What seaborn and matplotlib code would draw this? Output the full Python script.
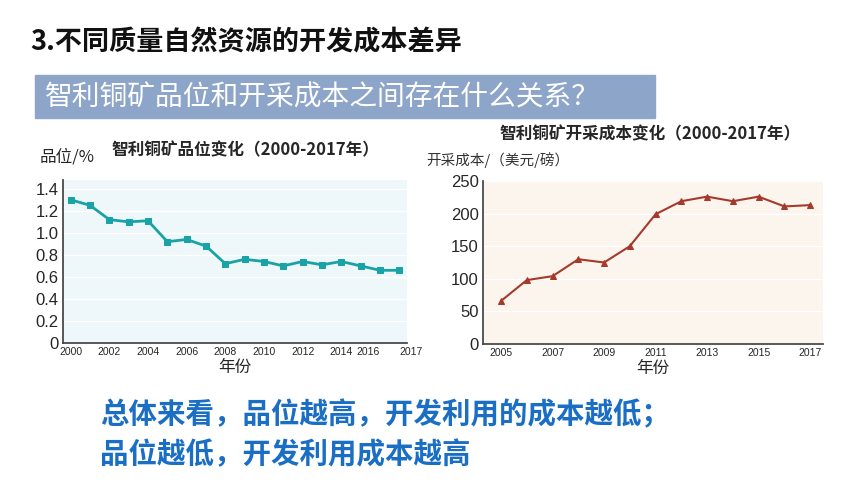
import matplotlib
matplotlib.use("Agg")
import matplotlib.pyplot as plt
import seaborn as sns
import pandas as pd
from matplotlib.patches import Rectangle

sns.set_theme(style="white")
plt.rcParams['font.family'] = ['Noto Sans CJK SC', 'DejaVu Sans']

grade_years = list(range(2000, 2018))
grade_vals = [1.30, 1.25, 1.12, 1.10, 1.11, 0.92, 0.94, 0.88, 0.72, 0.76, 0.74, 0.70, 0.74, 0.71, 0.74, 0.70, 0.66, 0.66]
grade_ticks = list(range(2000, 2017, 2)) + [2017]
cost_years = list(range(2005, 2018))
cost_vals = [66, 98, 104, 130, 125, 150, 199, 219, 226, 219, 226, 211, 213]
cost_ticks = [2005, 2007, 2009, 2011, 2013, 2015, 2017]

fig = plt.figure(figsize=(8.6, 4.84), dpi=100)
fig.patch.set_facecolor('white')

fig.text(30/860, 1-42/484, "3.不同质量自然资源的开发成本差异", fontsize=19.5, fontweight='bold', va='center', color='#111111')
fig.patches.append(Rectangle((35/860, 1-118/484), 620/860, 43/484, transform=fig.transFigure, color='#8da5c9', zorder=0))
fig.text(45/860, 1-97/484, "智利铜矿品位和开采成本之间存在什么关系？", fontsize=20, color='white', va='center')

tickfont = {'family': ['Liberation Sans', 'DejaVu Sans']}

# left chart
ax1 = fig.add_axes([63/860, 1-343/484, 344/860, 163/484])
ax1.set_facecolor('#eef7f9')
sns.lineplot(x=grade_years, y=grade_vals, ax=ax1, color='#1aa3a6', marker='s', markersize=5, markeredgecolor='#1aa3a6', linewidth=2)
ax1.set_ylim(0, 1.48)
ax1.set_xlim(1999.6, 2017.4)
ax1.set_yticks([0, 0.2, 0.4, 0.6, 0.8, 1.0, 1.2, 1.4])
ax1.set_yticklabels(['0', '0.2', '0.4', '0.6', '0.8', '1.0', '1.2', '1.4'], fontsize=12, **tickfont)
ax1.set_xticks(grade_ticks)
labs = ax1.set_xticklabels([str(t) for t in grade_ticks], fontsize=7.5, **tickfont)
labs[-1].set_ha('left')
labs[-2].set_ha('right')
ax1.yaxis.grid(True, color='white', linewidth=1)
for s in ['top', 'right']:
    ax1.spines[s].set_visible(False)
ax1.spines['left'].set_color('#444444'); ax1.spines['bottom'].set_color('#444444')
ax1.tick_params(axis='both', length=0, pad=3)
ax1.set_xlabel("年份", fontsize=12, labelpad=1)
fig.text(40/860, 1-157/484, "品位/%", fontsize=12, va='center')
fig.text(245/860, 1-150/484, "智利铜矿品位变化（2000-2017年）", fontsize=12, fontweight='bold', ha='center', va='center')

# right chart
ax2 = fig.add_axes([483/860, 1-344/484, 340/860, 163/484])
ax2.set_facecolor('#fbf5ee')
sns.lineplot(x=cost_years, y=cost_vals, ax=ax2, color='#a53a2c', marker='^', markersize=5, markeredgecolor='#a53a2c', linewidth=1.5)
ax2.set_ylim(0, 250)
ax2.set_xlim(2004.3, 2017.5)
ax2.set_yticks([0, 50, 100, 150, 200, 250])
ax2.set_yticklabels(['0', '50', '100', '150', '200', '250'], fontsize=12, **tickfont)
ax2.set_xticks(cost_ticks)
ax2.set_xticklabels([str(t) for t in cost_ticks], fontsize=7.5, **tickfont)
ax2.yaxis.grid(True, color='white', linewidth=1)
for s in ['top', 'right']:
    ax2.spines[s].set_visible(False)
ax2.spines['left'].set_color('#444444'); ax2.spines['bottom'].set_color('#444444')
ax2.tick_params(axis='both', length=0, pad=3)
ax2.set_xlabel("年份", fontsize=12, labelpad=1)
fig.text(426/860, 1-160/484, "开采成本/（美元/磅）", fontsize=10.5, va='center', color='#333333')
fig.text(650/860, 1-134/484, "智利铜矿开采成本变化（2000-2017年）", fontsize=12, fontweight='bold', ha='center', va='center')

fig.text(100/860, 1-415/484, "总体来看，品位越高，开发利用的成本越低；", fontsize=20.5, fontweight='bold', color='#1a6fc4', va='center')
fig.text(100/860, 1-455/484, "品位越低，开发利用成本越高", fontsize=20.5, fontweight='bold', color='#1a6fc4', va='center')

fig.savefig("out.png", dpi=100)
